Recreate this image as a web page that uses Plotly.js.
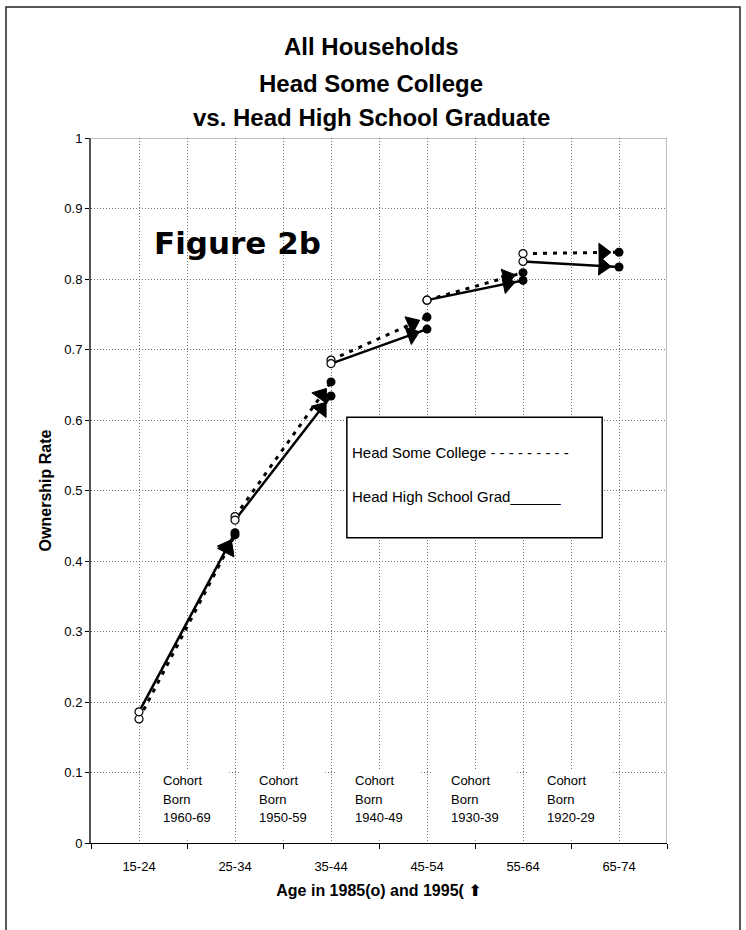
<!DOCTYPE html>
<html>
<head>
<meta charset="utf-8">
<script src="https://cdn.plot.ly/plotly-3.0.1.min.js"></script>
<style>html,body{margin:0;padding:0;background:#fff;}#chart{width:746px;height:930px;}</style>
</head>
<body>
<div id="chart"></div>
<script>
// ---- data ----
const ages = ['15-24', '25-34', '35-44', '45-54', '55-64', '65-74'];
const cohorts = ['1960-69', '1950-59', '1940-49', '1930-39', '1920-29'];
// each cohort k: 1985 value at age group k, 1995 value at age group k+1
const college1985 = [0.176, 0.463, 0.685, 0.770, 0.836];
const college1995 = [0.437, 0.654, 0.746, 0.809, 0.838];
const hs1985 = [0.186, 0.458, 0.680, 0.770, 0.825];
const hs1995 = [0.440, 0.634, 0.729, 0.798, 0.817];
const seriesNames = ['Head Some College', 'Head High School Grad'];
const legendMarks = [' - - - - - - - - -', '______'];
const titleLines = ['All Households', 'Head Some College', 'vs. Head High School Graduate'];
const figureLabel = 'Figure 2b';
const yTitle = 'Ownership Rate';
const xTitle = 'Age in 1985(o) and 1995( ';
const xTitleArrow = '\u2B06';
const yTicks = [0, 0.1, 0.2, 0.3, 0.4, 0.5, 0.6, 0.7, 0.8, 0.9, 1];

// ---- layout constants ----
const W = 746, H = 930;
const M = {l: 91, r: 79, t: 138, b: 87};
const plotW = W - M.l - M.r, plotH = H - M.t - M.b;
const XMAX = ages.length * 2;
const pxX = plotW / XMAX, pxY = plotH / 1;
const FONT = 'Liberation Sans, Arial, sans-serif';
const GRID = '#707070', GRIDDASH = '1px,2px';
const pos = i => 2 * i + 1;

const series = [
  {name: seriesNames[0], v85: college1985, v95: college1995, dash: '4px,6px', width: 3},
  {name: seriesNames[1], v85: hs1985, v95: hs1995, dash: 'solid', width: 2.5}
];

const traces = [];
// lines
series.forEach(s => {
  const xs = [], ys = [];
  s.v85.forEach((v, k) => { xs.push(pos(k), pos(k + 1), null); ys.push(v, s.v95[k], null); });
  traces.push({x: xs, y: ys, mode: 'lines', line: {color: '#000', width: s.width, dash: s.dash},
    hoverinfo: 'skip', showlegend: false});
});
// arrowheads just before each 1995 point
series.forEach(s => {
  s.v85.forEach((v, k) => {
    const x0 = pos(k), y0 = v, x1 = pos(k + 1), y1 = s.v95[k];
    const L = Math.hypot((x1 - x0) * pxX, (y1 - y0) * pxY);
    const f = 1 - 16 / L;
    traces.push({x: [x0, x0 + f * (x1 - x0)], y: [y0, y0 + f * (y1 - y0)], mode: 'markers',
      marker: {symbol: 'triangle-up', size: [0, 16], angleref: 'previous', color: '#000', opacity: 1,
        line: {color: '#000', width: 1}},
      hoverinfo: 'skip', showlegend: false});
  });
});
// markers: 1985 open, 1995 filled
series.forEach(s => {
  traces.push({x: s.v85.map((v, k) => pos(k)), y: s.v85, mode: 'markers', name: s.name + ' 1985',
    marker: {symbol: 'circle', size: 8, color: '#fff', opacity: 1, line: {color: '#000', width: 1.2}}, showlegend: false});
  traces.push({x: s.v95.map((v, k) => pos(k + 1)), y: s.v95, mode: 'markers', name: s.name + ' 1995',
    marker: {symbol: 'circle', size: 9, color: '#000', opacity: 1, line: {color: '#000', width: 0}}, showlegend: false});
});

const shapes = [];
// white boxes behind cohort labels
cohorts.forEach((c, k) => {
  shapes.push({type: 'rect', xref: 'x', yref: 'y', x0: pos(k) + 0.12, x1: pos(k + 1) - 0.12, y0: 0.004, y1: 0.104,
    fillcolor: '#fff', line: {width: 0}, layer: 'above'});
});
// plot frame top and right
shapes.push({type: 'line', xref: 'x', yref: 'y', x0: 0, x1: XMAX, y0: 1, y1: 1, line: {color: '#808080', width: 1}});
shapes.push({type: 'line', xref: 'x', yref: 'y', x0: XMAX, x1: XMAX, y0: 0, y1: 1, line: {color: '#808080', width: 1}});
// legend box
shapes.push({type: 'rect', xref: 'x', yref: 'y', x0: 5.33, x1: 10.65, y0: 0.433, y1: 0.604,
  fillcolor: '#fff', line: {color: '#000', width: 1.5}, layer: 'above'});
// outer frame
shapes.push({type: 'rect', xref: 'paper', yref: 'paper', x0: (6 - M.l) / plotW, x1: (740 - M.l) / plotW,
  y0: -0.3, y1: (H - M.b - 7) / plotH, line: {color: '#222', width: 1.5}, fillcolor: 'rgba(0,0,0,0)'});

const annotations = [];
const titleY = [47, 83, 118];
titleLines.forEach((t, i) => {
  annotations.push({text: '<b>' + t + '</b>', xref: 'paper', yref: 'paper', x: (371 - M.l) / plotW, y: (H - M.b - titleY[i]) / plotH,
    xanchor: 'center', yanchor: 'middle', showarrow: false, font: {family: FONT, size: 24, color: '#000'}});
});
annotations.push({text: '<b>' + figureLabel + '</b>', xref: 'paper', yref: 'paper', x: (237 - M.l) / plotW, y: (H - M.b - 243) / plotH,
  xanchor: 'center', yanchor: 'middle', showarrow: false, font: {family: 'DejaVu Sans, sans-serif', size: 31, color: '#000'}});
const cohortLineY = [0.0882, 0.0616, 0.0355];
cohorts.forEach((c, k) => {
  ['Cohort', 'Born', c].forEach((t, j) => {
    annotations.push({text: t, xref: 'x', yref: 'y', x: pos(k) + 0.45, y: cohortLineY[j], xanchor: 'left', yanchor: 'middle',
      showarrow: false, font: {family: FONT, size: 13, color: '#000'}});
  });
});
const legendY = [(H - M.b - 452) / plotH, (H - M.b - 497) / plotH];
seriesNames.forEach((n, i) => {
  annotations.push({text: n + legendMarks[i], xref: 'x', yref: 'paper', x: 5.40, y: legendY[i], xanchor: 'left', yanchor: 'middle',
    showarrow: false, font: {family: FONT, size: 15, color: '#000'}});
});

const layout = {
  width: W, height: H, margin: M, paper_bgcolor: '#fff', plot_bgcolor: '#fff', showlegend: false,
  font: {family: FONT, color: '#000', size: 13},
  xaxis: {range: [0, XMAX], tickmode: 'array', tickvals: ages.map((a, i) => pos(i)), ticktext: ages, ticks: '',
    showgrid: true, gridcolor: GRID, griddash: GRIDDASH, gridwidth: 1, zeroline: false,
    showline: true, linecolor: '#000', linewidth: 1, ticklabelstandoff: 11, tickfont: {size: 13},
    minor: {tickmode: 'array', tickvals: ages.map((a, i) => 2 * i).concat([XMAX]), ticks: 'outside', ticklen: 5,
      tickcolor: '#000', showgrid: true, gridcolor: GRID, griddash: GRIDDASH, gridwidth: 1},
    title: {text: '<b>' + xTitle + '<span style="font-family:DejaVu Sans">' + xTitleArrow + '</span></b>', font: {size: 16}, standoff: 12},
    fixedrange: true},
  yaxis: {range: [0, 1], tickmode: 'array', tickvals: yTicks, ticktext: yTicks.map(v => String(v)), ticks: 'outside', ticklen: 4,
    tickcolor: '#000', showgrid: true, gridcolor: GRID, griddash: GRIDDASH, gridwidth: 1, zeroline: false,
    showline: true, linecolor: '#555', linewidth: 2, tickfont: {size: 13},
    title: {text: '<b>' + yTitle + '</b>', font: {size: 16}, standoff: 9}, fixedrange: true},
  shapes: shapes, annotations: annotations
};

Plotly.newPlot('chart', traces, layout, {displayModeBar: false, staticPlot: true});
</script>
</body>
</html>
